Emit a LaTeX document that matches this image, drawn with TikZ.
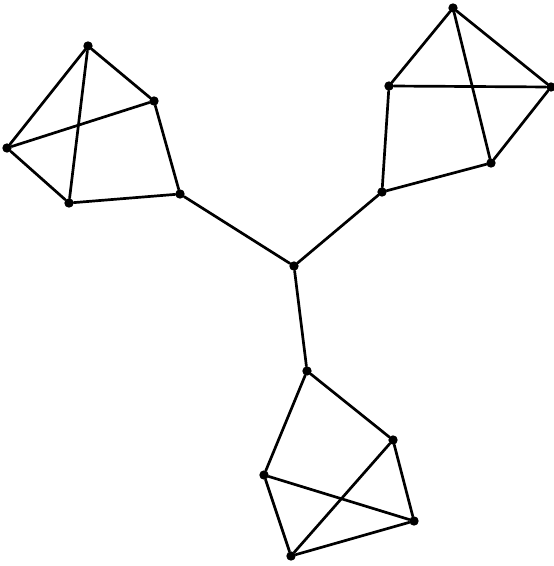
\documentclass[tikz,border=0pt]{standalone}
\usepackage{tikz}

\begin{document}
\begin{tikzpicture}[
    x=0.03cm, y=-0.03cm,
    vtx/.style={circle, fill=black, draw=none, inner sep=0pt, minimum size=8pt},
    edge/.style={line width=2.3pt, black, line cap=round},
]
\useasboundingbox (0,0) rectangle (553,566);

% ===================== Centro =====================
\node[vtx] (c) at (294,266) {};

% ===================== Bloque arriba izquierda =====================
\node[vtx] (la) at (88,46) {};
\node[vtx] (lb) at (154,101) {};
\node[vtx] (lc) at (180,194) {};
\node[vtx] (ld) at (69,203) {};
\node[vtx] (le) at (7,148) {};

\draw[edge] (la) -- (lb) -- (lc) -- (ld) -- (le) -- (la);
\draw[edge] (la) -- (ld);
\draw[edge] (le) -- (lb);

% ===================== Bloque arriba derecha =====================
\node[vtx] (ra) at (453,8) {};
\node[vtx] (rb) at (389,86) {};
\node[vtx] (rc) at (382,192) {};
\node[vtx] (rd) at (491,163) {};
\node[vtx] (re) at (551,87) {};

\draw[edge] (ra) -- (rb) -- (rc) -- (rd) -- (re) -- (ra);
\draw[edge] (ra) -- (rd);
\draw[edge] (rb) -- (re);

% ===================== Bloque abajo =====================
\node[vtx] (ba) at (307,371) {};
\node[vtx] (bb) at (393,440) {};
\node[vtx] (bc) at (414,521) {};
\node[vtx] (bd) at (291,556) {};
\node[vtx] (be) at (264,475) {};

\draw[edge] (ba) -- (bb) -- (bc) -- (bd) -- (be) -- (ba);
\draw[edge] (be) -- (bc);
\draw[edge] (bb) -- (bd);

% ===================== Enlaces al centro =====================
\foreach \n in {lc, rc, ba} {\draw[edge] (c) -- (\n);}

\end{tikzpicture}
\end{document}
